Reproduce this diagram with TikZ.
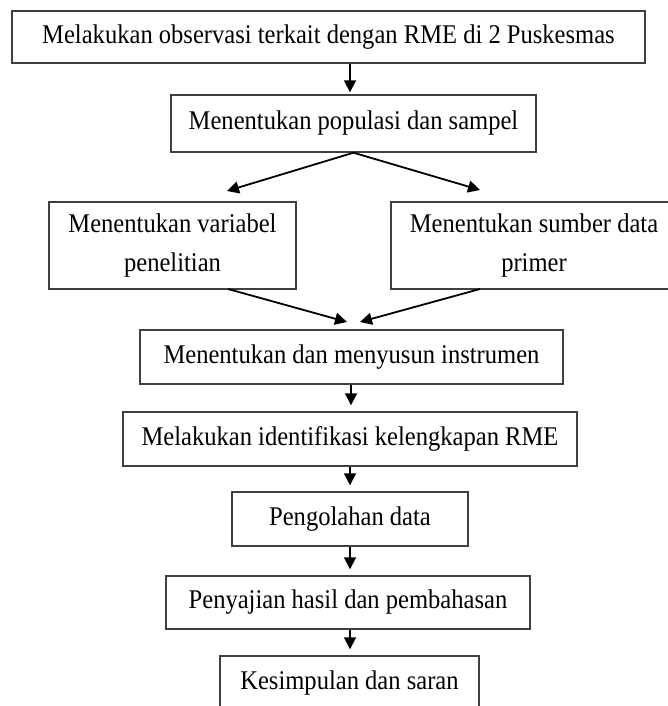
\documentclass[tikz,border=0pt]{standalone}
\usepackage{fontspec}
\setmainfont{Liberation Serif}[FakeStretch=0.91]
\usetikzlibrary{arrows.meta,positioning,calc}

\begin{document}
\begin{tikzpicture}[
    x=1pt, y=-1pt,
    box/.style={rectangle, draw=black!75, line width=1.4pt, align=center, inner sep=0pt, font=\fontsize{27}{39}\selectfont},
    arrow/.style={-{Triangle[length=12pt,width=12pt]}, line width=1.8pt, shorten >=6pt}
]
    \useasboundingbox (0,0) rectangle (667,706);
    \node[box, minimum width=633pt, minimum height=52pt] (obs) at (328.5,37) {Melakukan observasi terkait dengan RME di 2 Puskesmas};
    \node[box, minimum width=365pt, minimum height=57pt] (pop) at (353.5,123.5) {Menentukan populasi dan sampel};
    \node[box, minimum width=247pt, minimum height=87pt] (var) at (172.5,245.5) {Menentukan variabel\\penelitian};
    \node[box, minimum width=286pt, minimum height=87pt] (src) at (534,245.5) {Menentukan sumber data\\primer};
    \node[box, minimum width=423pt, minimum height=54pt] (ins) at (351.5,357) {Menentukan dan menyusun instrumen};
    \node[box, minimum width=454pt, minimum height=54pt] (idf) at (350,439) {Melakukan identifikasi kelengkapan RME};
    \node[box, minimum width=236pt, minimum height=54pt] (olah) at (350,519) {Pengolahan data};
    \node[box, minimum width=364pt, minimum height=53pt] (saji) at (348,602.5) {Penyajian hasil dan pembahasan};
    \node[box, minimum width=259pt, minimum height=54pt] (simp) at (349.5,683) {Kesimpulan dan saran};

    % free ends of the slanted arrows
    \coordinate (varIn) at (227,191);
    \coordinate (srcIn) at (480,190);
    \coordinate (varOut) at (228,289);
    \coordinate (srcOut) at (480,289);
    \coordinate (insL) at (347,322);
    \coordinate (insR) at (360,322);

    \draw[arrow, shorten >=2pt] (obs.south -| 350,0) -- (pop.north -| 350,0);
    \draw[arrow, shorten >=0pt] (pop.south) -- (varIn);
    \draw[arrow, shorten >=0pt] (pop.south) -- (srcIn);
    \draw[arrow, shorten >=0pt] (varOut) -- (insL);
    \draw[arrow, shorten >=0pt] (srcOut) -- (insR);
    \draw[arrow] (ins.south -| 351,0) -- (idf.north -| 351,0);
    \draw[arrow] (idf.south) -- (olah.north);
    \draw[arrow] (olah.south) -- (saji.north -| olah.south);
    \draw[arrow] (saji.south -| olah.south) -- (simp.north -| olah.south);
\end{tikzpicture}
\end{document}
